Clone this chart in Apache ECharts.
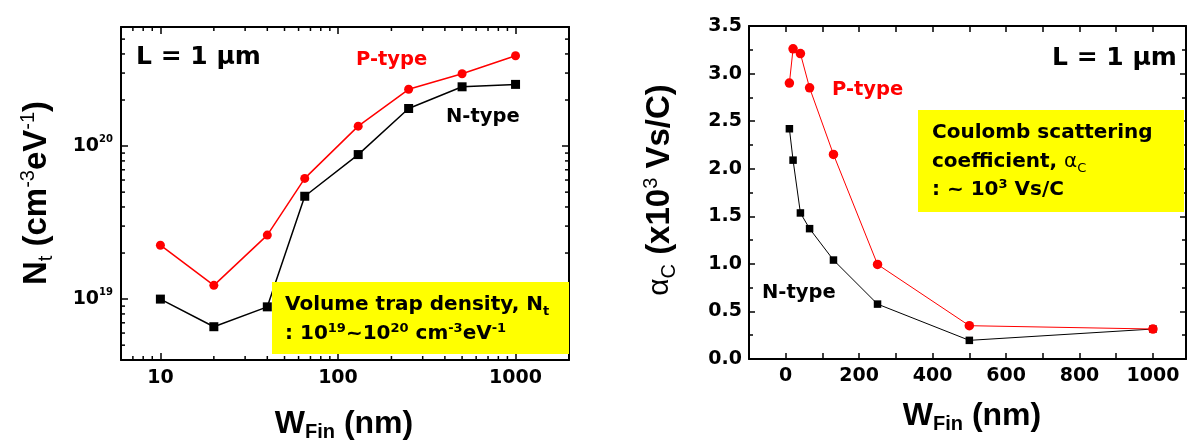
<!DOCTYPE html>
<html>
<head>
<meta charset="utf-8">
<script src="https://cdn.jsdelivr.net/npm/echarts@6/dist/echarts.min.js"></script>
<style>
html,body{margin:0;padding:0;background:#fff;}
#chart{width:1189px;height:445px;}
</style>
</head>
<body>
<div id="chart"></div>
<script>
// ---------- data ----------
const wFin = [10, 20, 40, 65, 130, 250, 500, 1000];
const ntN = [1.0e19, 6.6e18, 8.9e18, 4.7e19, 8.8e19, 1.76e20, 2.44e20, 2.53e20];
const ntP = [2.25e19, 1.23e19, 2.62e19, 6.15e19, 1.35e20, 2.35e20, 2.97e20, 3.89e20];
const alphaN = [2.42, 2.09, 1.535, 1.37, 1.04, 0.577, 0.196, 0.315];
const alphaP = [2.90, 3.26, 3.21, 2.85, 2.15, 0.994, 0.35, 0.315];
const logXMinor = [7, 8, 9, 20, 30, 40, 50, 60, 70, 80, 90, 200, 300, 400, 500, 600, 700, 800, 900];
const logYMinor = [5e18, 6e18, 7e18, 8e18, 9e18, 2e19, 3e19, 4e19, 5e19, 6e19, 7e19, 8e19, 9e19, 2e20, 3e20, 4e20, 5e20];
const xLogRange = [6, 2000];
const yLogRange = [4e18, 6e20];
const xLinRange = [-100, 1090];
const yLinRange = [0, 3.5];

const chart = echarts.init(document.getElementById('chart'), null, {renderer: 'canvas'});
const TICK_FONT = 'DejaVu Sans';
const TITLE_FONT = 'Liberation Sans';

function isPow10(v) {
  const l = Math.log10(v);
  return Math.abs(l - Math.round(l)) < 1e-6;
}
const axisLine = {show: true, onZero: false, lineStyle: {color: '#000', width: 2}};
const axisTick = {show: true, inside: true, length: 7, lineStyle: {color: '#000', width: 1.5}};
const tickLabelStyle = {fontFamily: TICK_FONT, fontWeight: 'bold', fontSize: 19, color: '#000'};

function pair(a, b) { return a.map((v, i) => [v, b[i]]); }

const option = {
  backgroundColor: '#fff',
  animation: false,
  grid: [
    {left: 121, top: 27, width: 448, height: 333},
    {left: 749, top: 26, width: 442, height: 333}
  ],
  xAxis: [
    {gridIndex: 0, type: 'log', min: xLogRange[0], max: xLogRange[1], position: 'bottom',
     axisLine, axisTick, splitLine: {show: false},
     axisLabel: Object.assign({margin: 9, formatter: v => isPow10(v) ? String(Math.round(v)) : ''}, tickLabelStyle)},
    {gridIndex: 0, type: 'log', min: xLogRange[0], max: xLogRange[1], position: 'top',
     axisLine, axisTick, splitLine: {show: false}, axisLabel: {show: false}},
    {gridIndex: 1, type: 'value', min: xLinRange[0], max: xLinRange[1], interval: 100, position: 'bottom',
     axisLine, axisTick: Object.assign({}, axisTick, {length: 6}), splitLine: {show: false},
     axisLabel: Object.assign({margin: 8, formatter: v => (v >= 0 && v <= 1000 && v % 200 === 0) ? String(v) : ''}, tickLabelStyle)},
    {gridIndex: 1, type: 'value', min: xLinRange[0], max: xLinRange[1], interval: 100, position: 'top',
     axisLine, axisTick: Object.assign({}, axisTick, {length: 6}), splitLine: {show: false}, axisLabel: {show: false}}
  ],
  yAxis: [
    {gridIndex: 0, type: 'log', min: yLogRange[0], max: yLogRange[1], position: 'left',
     axisLine, axisTick, splitLine: {show: false},
     axisLabel: {margin: 8, formatter: v => isPow10(v) ? '{a|10}{b|' + Math.round(Math.log10(v)) + '}' : '',
       rich: {a: {fontFamily: TICK_FONT, fontWeight: 'bold', fontSize: 19, color: '#000', lineHeight: 24},
              b: {fontFamily: TICK_FONT, fontWeight: 'bold', fontSize: 10, color: '#000', verticalAlign: 'top', lineHeight: 12}}}},
    {gridIndex: 0, type: 'log', min: yLogRange[0], max: yLogRange[1], position: 'right',
     axisLine, axisTick, splitLine: {show: false}, axisLabel: {show: false}},
    {gridIndex: 1, type: 'value', min: yLinRange[0], max: yLinRange[1], interval: 0.5, position: 'left',
     axisLine, axisTick: Object.assign({}, axisTick, {length: 6}), splitLine: {show: false},
     minorTick: {show: true, splitNumber: 2, length: 4, lineStyle: {color: '#000', width: 1.5}},
     axisLabel: Object.assign({margin: 7, formatter: v => v.toFixed(1)}, tickLabelStyle)},
    {gridIndex: 1, type: 'value', min: yLinRange[0], max: yLinRange[1], interval: 0.5, position: 'right',
     axisLine, axisTick: Object.assign({}, axisTick, {length: 6}), splitLine: {show: false},
     minorTick: {show: true, splitNumber: 2, length: 4, lineStyle: {color: '#000', width: 1.5}},
     axisLabel: {show: false}}
  ],
  series: [
    // minor ticks on log axes (left chart)
    {type: 'custom', xAxisIndex: 0, yAxisIndex: 0, silent: true, clip: false, z: 5,
     data: logXMinor.map(v => [v, yLogRange[0]]),
     renderItem: function (params, api) {
       const p = api.coord([api.value(0), api.value(1)]);
       const cs = params.coordSys;
       const st = {stroke: '#000', lineWidth: 1.5};
       return {type: 'group', children: [
         {type: 'line', shape: {x1: p[0], y1: cs.y + cs.height, x2: p[0], y2: cs.y + cs.height - 4}, style: st},
         {type: 'line', shape: {x1: p[0], y1: cs.y, x2: p[0], y2: cs.y + 4}, style: st}
       ]};
     }},
    {type: 'custom', xAxisIndex: 0, yAxisIndex: 0, silent: true, clip: false, z: 5,
     data: logYMinor.map(v => [xLogRange[0], v]),
     renderItem: function (params, api) {
       const p = api.coord([api.value(0), api.value(1)]);
       const cs = params.coordSys;
       const st = {stroke: '#000', lineWidth: 1.5};
       return {type: 'group', children: [
         {type: 'line', shape: {x1: cs.x, y1: p[1], x2: cs.x + 4, y2: p[1]}, style: st},
         {type: 'line', shape: {x1: cs.x + cs.width, y1: p[1], x2: cs.x + cs.width - 4, y2: p[1]}, style: st}
       ]};
     }},
    {name: 'N-type', type: 'line', xAxisIndex: 0, yAxisIndex: 0, data: pair(wFin, ntN),
     symbol: 'rect', symbolSize: 9, lineStyle: {color: '#000', width: 1.5}, itemStyle: {color: '#000'}, z: 3},
    {name: 'P-type', type: 'line', xAxisIndex: 0, yAxisIndex: 0, data: pair(wFin, ntP),
     symbol: 'circle', symbolSize: 9, lineStyle: {color: '#ff0000', width: 1.5}, itemStyle: {color: '#ff0000'}, z: 4},
    {name: 'N-type', type: 'line', xAxisIndex: 2, yAxisIndex: 2, data: pair(wFin, alphaN),
     symbol: 'rect', symbolSize: 7.5, lineStyle: {color: '#000', width: 1}, itemStyle: {color: '#000'}, z: 3},
    {name: 'P-type', type: 'line', xAxisIndex: 2, yAxisIndex: 2, data: pair(wFin, alphaP),
     symbol: 'circle', symbolSize: 9.5, lineStyle: {color: '#ff0000', width: 1}, itemStyle: {color: '#ff0000'}, z: 4}
  ],
  graphic: [
    // yellow boxes
    {type: 'rect', shape: {x: 272, y: 282, width: 297, height: 72}, style: {fill: '#ffff00'}, z: 10},
    {type: 'rect', shape: {x: 918, y: 110, width: 266, height: 102}, style: {fill: '#ffff00'}, z: 10},
    // left box text
    {type: 'text', x: 285, y: 305, z: 11, style: {
      text: '{m|Volume trap density, N}{s|t}',
      rich: {m: {fontFamily: TICK_FONT, fontWeight: 'bold', fontSize: 20, fill: '#000', lineHeight: 26},
             s: {fontFamily: TICK_FONT, fontWeight: 'bold', fontSize: 13, fill: '#000', verticalAlign: 'bottom', lineHeight: 18}},
      verticalAlign: 'middle', align: 'left'}},
    {type: 'text', x: 285, y: 334, z: 11, style: {
      text: '{m|: 10}{p|19}{m|~10}{p|20}{m| cm}{p|-3}{m|eV}{p|-1}',
      rich: {m: {fontFamily: TICK_FONT, fontWeight: 'bold', fontSize: 20, fill: '#000', lineHeight: 24},
             p: {fontFamily: TICK_FONT, fontWeight: 'bold', fontSize: 13, fill: '#000', verticalAlign: 'top', lineHeight: 14}},
      verticalAlign: 'middle', align: 'left'}},
    // right box text
    {type: 'text', x: 932, y: 133, z: 11, style: {
      text: 'Coulomb scattering', font: 'bold 20px "DejaVu Sans"', fill: '#000', verticalAlign: 'middle', align: 'left'}},
    {type: 'text', x: 932, y: 162, z: 11, style: {
      text: '{m|coefficient, }{a|α}{s|C}',
      rich: {m: {fontFamily: TICK_FONT, fontWeight: 'bold', fontSize: 20, fill: '#000', lineHeight: 26},
             a: {fontFamily: TICK_FONT, fontWeight: 'normal', fontSize: 20, fill: '#000', lineHeight: 26},
             s: {fontFamily: TICK_FONT, fontWeight: 'normal', fontSize: 13, fill: '#000', verticalAlign: 'bottom', lineHeight: 18}},
      verticalAlign: 'middle', align: 'left'}},
    {type: 'text', x: 932, y: 190, z: 11, style: {
      text: '{m|: ~ 10}{p|3}{m| Vs/C}',
      rich: {m: {fontFamily: TICK_FONT, fontWeight: 'bold', fontSize: 20, fill: '#000', lineHeight: 24},
             p: {fontFamily: TICK_FONT, fontWeight: 'bold', fontSize: 13, fill: '#000', verticalAlign: 'top', lineHeight: 14}},
      verticalAlign: 'middle', align: 'left'}},
    // L = 1 um
    {type: 'text', x: 136, y: 57, z: 11, style: {text: 'L = 1 μm', font: 'bold 25px "DejaVu Sans"', fill: '#000', verticalAlign: 'middle', align: 'left'}},
    {type: 'text', x: 1052, y: 58, z: 11, style: {text: 'L = 1 μm', font: 'bold 25px "DejaVu Sans"', fill: '#000', verticalAlign: 'middle', align: 'left'}},
    // series labels
    {type: 'text', x: 356, y: 60, z: 11, style: {text: 'P-type', font: 'bold 19.5px "DejaVu Sans"', fill: '#ff0000', verticalAlign: 'middle', align: 'left'}},
    {type: 'text', x: 446, y: 117, z: 11, style: {text: 'N-type', font: 'bold 19.5px "DejaVu Sans"', fill: '#000', verticalAlign: 'middle', align: 'left'}},
    {type: 'text', x: 832, y: 90, z: 11, style: {text: 'P-type', font: 'bold 19.5px "DejaVu Sans"', fill: '#ff0000', verticalAlign: 'middle', align: 'left'}},
    {type: 'text', x: 762, y: 293, z: 11, style: {text: 'N-type', font: 'bold 19.5px "DejaVu Sans"', fill: '#000', verticalAlign: 'middle', align: 'left'}},
    // axis titles
    {type: 'text', x: 344, y: 424, z: 11, style: {
      text: '{m|W}{s|Fin}{m| (nm)}',
      rich: {m: {fontFamily: TITLE_FONT, fontWeight: 'bold', fontSize: 32, fill: '#000', lineHeight: 36},
             s: {fontFamily: TITLE_FONT, fontWeight: 'bold', fontSize: 20, fill: '#000', verticalAlign: 'bottom', lineHeight: 14}},
      verticalAlign: 'middle', align: 'center'}},
    {type: 'text', x: 972, y: 416, z: 11, style: {
      text: '{m|W}{s|Fin}{m| (nm)}',
      rich: {m: {fontFamily: TITLE_FONT, fontWeight: 'bold', fontSize: 32, fill: '#000', lineHeight: 36},
             s: {fontFamily: TITLE_FONT, fontWeight: 'bold', fontSize: 20, fill: '#000', verticalAlign: 'bottom', lineHeight: 14}},
      verticalAlign: 'middle', align: 'center'}},
    {type: 'text', x: 37, y: 193, rotation: Math.PI / 2, z: 11, style: {
      text: '{m|N}{s|t}{m| (cm}{p|-3}{m|eV}{p|-1}{m|)}',
      rich: {m: {fontFamily: TITLE_FONT, fontWeight: 'bold', fontSize: 33, fill: '#000', lineHeight: 38},
             s: {fontFamily: TITLE_FONT, fontWeight: 'normal', fontSize: 20, fill: '#000', verticalAlign: 'bottom', lineHeight: 16},
             p: {fontFamily: TITLE_FONT, fontWeight: 'normal', fontSize: 20, fill: '#000', verticalAlign: 'top', lineHeight: 20}},
      verticalAlign: 'middle', align: 'center'}},
    {type: 'text', x: 660, y: 190, rotation: Math.PI / 2, z: 11, style: {
      text: '{a|α}{s|C}{m| (x10}{p|3}{m| Vs/C)}',
      rich: {m: {fontFamily: TITLE_FONT, fontWeight: 'bold', fontSize: 33, fill: '#000', lineHeight: 38},
             a: {fontFamily: TITLE_FONT, fontWeight: 'normal', fontSize: 30, fill: '#000', lineHeight: 38},
             s: {fontFamily: TITLE_FONT, fontWeight: 'normal', fontSize: 20, fill: '#000', verticalAlign: 'bottom', lineHeight: 16},
             p: {fontFamily: TITLE_FONT, fontWeight: 'normal', fontSize: 20, fill: '#000', verticalAlign: 'top', lineHeight: 20}},
      verticalAlign: 'middle', align: 'center'}}
  ]
};
chart.setOption(option);
</script>
</body>
</html>
